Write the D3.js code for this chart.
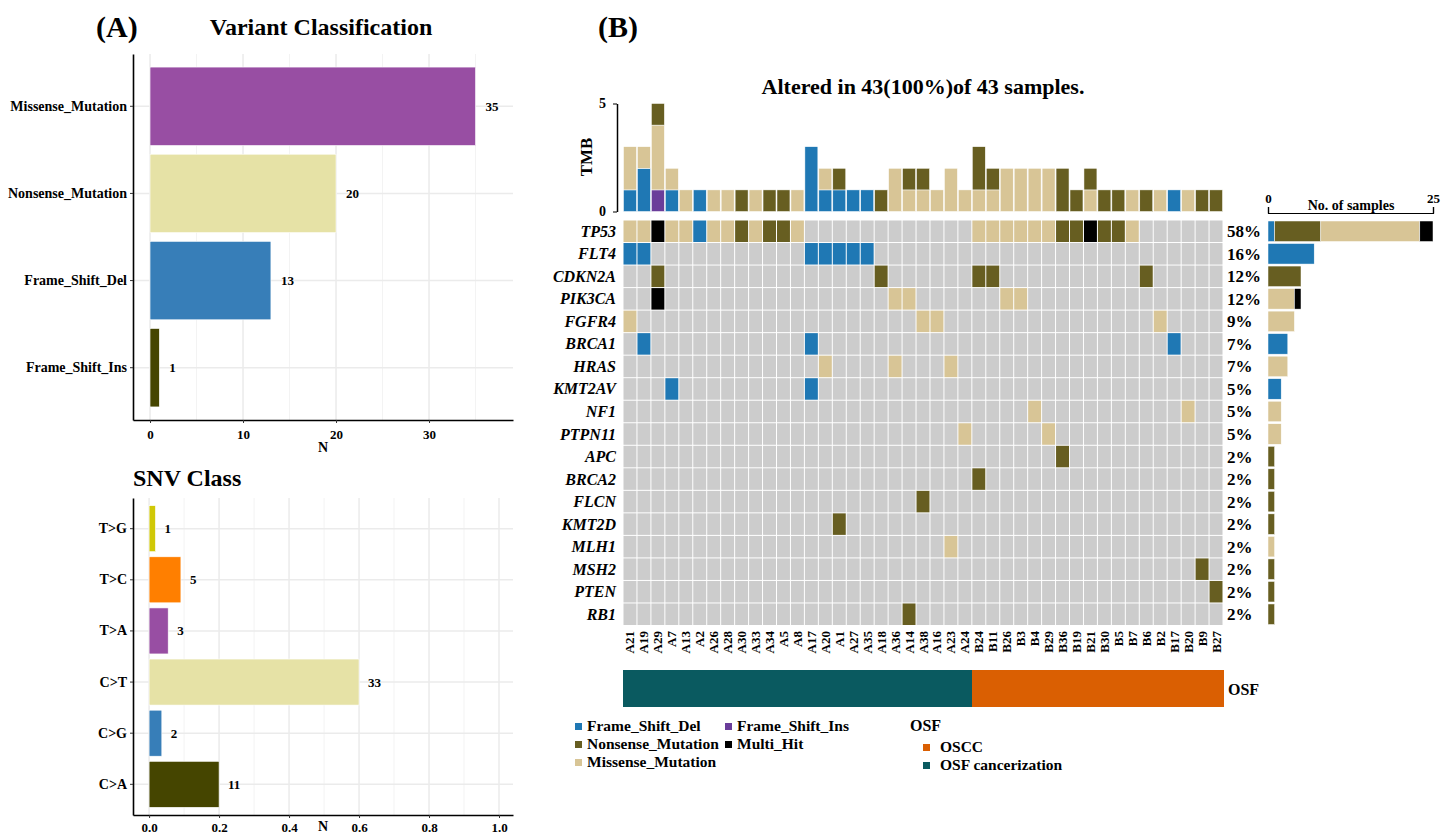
<!DOCTYPE html>
<html>
<head>
<meta charset="utf-8">
<script src="https://cdn.jsdelivr.net/npm/d3@7"></script>
<style>
  body { margin: 0; background: #fff; }
  text { font-family: "Liberation Serif", "Times New Roman", serif; font-weight: bold; fill: #000; }
</style>
</head>
<body>
<script>
// ---------- data: panel A ----------
const vcClasses = ["Missense_Mutation", "Nonsense_Mutation", "Frame_Shift_Del", "Frame_Shift_Ins"];
const vcCounts = [35, 20, 13, 1];
const vcColors = ["#984EA3", "#E6E2A6", "#377EB8", "#454500"];

const snvClasses = ["T>G", "T>C", "T>A", "C>T", "C>G", "C>A"];
const snvCounts = [1, 5, 3, 33, 2, 11];
const snvColors = ["#D0C806", "#FF7F00", "#984EA3", "#E6E2A6", "#377EB8", "#454500"];

// ---------- data: panel B (oncoplot) ----------
const samples = ["A21","A19","A29","A7","A13","A2","A26","A28","A30","A33","A34","A5","A8","A17","A20","A1","A27","A35","A18","A36","A14","A38","A16","A23","A24",
                 "B24","B11","B26","B3","B4","B29","B36","B19","B21","B30","B5","B7","B6","B2","B17","B20","B9","B27"];
const genes = ["TP53","FLT4","CDKN2A","PIK3CA","FGFR4","BRCA1","HRAS","KMT2AV","NF1","PTPN11","APC","BRCA2","FLCN","KMT2D","MLH1","MSH2","PTEN","RB1"];
// D = Frame_Shift_Del, I = Frame_Shift_Ins, N = Nonsense, M = Missense, X = Multi_Hit
const geneHits = [
  "A21:M A19:M A29:X A7:M A13:M A2:D A26:M A28:M A30:N A33:M A34:N A5:N A8:M B24:M B11:M B26:M B3:M B4:M B29:M B36:N B19:N B21:X B30:N B5:N B7:M",
  "A21:D A19:D A17:D A20:D A1:D A27:D A35:D",
  "A29:N A18:N B24:N B11:N B6:N",
  "A29:X A36:M A14:M B26:M B3:M",
  "A21:M A38:M A16:M B2:M",
  "A19:D A17:D B17:D",
  "A20:M A36:M A23:M",
  "A7:D A17:D",
  "B4:M B20:M",
  "A24:M B29:M",
  "B36:N",
  "B24:N",
  "A38:N",
  "A1:N",
  "A23:M",
  "B9:N",
  "B27:N",
  "A14:N"
];
// TMB per sample (variant counts)
const tmbDel = [1,2,0,1,0,1,0,0,0,0,0,0,0,3,1,1,1,1,0,0,0,0,0,0,0, 0,0,0,0,0,0,0,0,0,0,0,0,0,0,1,0,0,0];
const tmbIns = [0,0,1,0,0,0,0,0,0,0,0,0,0,0,0,0,0,0,0,0,0,0,0,0,0, 0,0,0,0,0,0,0,0,0,0,0,0,0,0,0,0,0,0];
const tmbMis = [2,1,3,1,1,0,1,1,0,1,0,0,1,0,1,0,0,0,0,2,1,1,1,2,1, 1,1,2,2,2,2,0,0,1,0,0,1,0,1,0,1,0,0];
const tmbNon = [0,0,1,0,0,0,0,0,1,0,1,1,0,0,0,1,0,0,1,0,1,1,0,0,0, 2,1,0,0,0,0,2,1,1,1,1,0,1,0,0,0,1,1];

const classNames = { D: "Frame_Shift_Del", I: "Frame_Shift_Ins", N: "Nonsense_Mutation", M: "Missense_Mutation", X: "Multi_Hit" };
const oncoColors = { Frame_Shift_Del: "#1F78B4", Frame_Shift_Ins: "#6A3D9A", Nonsense_Mutation: "#675E21", Missense_Mutation: "#D8C596", Multi_Hit: "#000000" };
const osfColors = { "OSCC": "#DA5F02", "OSF cancerization": "#0A5A60" };

const svg = d3.select("body").append("svg")
  .attr("width", 1444)
  .attr("height", 835);

// ---------- panel A ----------
svg.append("text").attr("x", 96).attr("y", 37).style("font-size", "30px").text("(A)");
svg.append("text").attr("x", 321).attr("y", 35).attr("text-anchor", "middle").style("font-size", "24px").text("Variant Classification");
svg.append("text").attr("x", 133).attr("y", 486).style("font-size", "24px").text("SNV Class");

function barPanel(cfg) {
  const g = svg.append("g");
  const x = d3.scaleLinear().domain(cfg.xDomain).range([133, 513]);
  const y = d3.scaleBand().domain(cfg.cats).range([cfg.top, cfg.bottom]).paddingInner(0.1).paddingOuter(0.15);

  g.selectAll(".minor").data(cfg.minor).enter().append("line")
    .attr("x1", d => x(d)).attr("x2", d => x(d))
    .attr("y1", cfg.top).attr("y2", cfg.bottom)
    .attr("stroke", "#F3F3F3").attr("stroke-width", 1);
  g.selectAll(".major").data(cfg.ticks).enter().append("line")
    .attr("x1", d => x(d)).attr("x2", d => x(d))
    .attr("y1", cfg.top).attr("y2", cfg.bottom)
    .attr("stroke", "#EBEBEB").attr("stroke-width", 1.5);
  g.selectAll(".hgrid").data(cfg.cats).enter().append("line")
    .attr("x1", 133).attr("x2", 513)
    .attr("y1", d => y(d) + y.bandwidth() / 2).attr("y2", d => y(d) + y.bandwidth() / 2)
    .attr("stroke", "#EBEBEB").attr("stroke-width", 1.5);

  g.selectAll(".bar").data(cfg.cats).enter().append("rect")
    .attr("x", x(0))
    .attr("y", d => y(d))
    .attr("width", (d, i) => x(cfg.values[i]) - x(0))
    .attr("height", y.bandwidth())
    .attr("fill", (d, i) => cfg.colors[i])
    .attr("stroke", "#fff").attr("stroke-width", 0.6);

  g.selectAll(".lab").data(cfg.cats).enter().append("text")
    .attr("x", (d, i) => x(cfg.values[i]) + cfg.labOffset)
    .attr("y", d => y(d) + y.bandwidth() / 2 + 4.5)
    .style("font-size", "13px")
    .text((d, i) => cfg.labels[i]);

  const ax = g.append("g").attr("transform", `translate(0,${cfg.bottom})`)
    .call(d3.axisBottom(x).tickValues(cfg.ticks).tickSize(3).tickSizeOuter(0).tickPadding(cfg.tickPad).tickFormat(cfg.fmt));
  const ay = g.append("g").attr("transform", "translate(133,0)")
    .call(d3.axisLeft(y).tickSize(3).tickSizeOuter(0).tickPadding(3));
  [ax, ay].forEach(a => {
    a.select(".domain").attr("stroke", "#000").attr("stroke-width", 1.6);
    a.selectAll(".tick line").attr("stroke", "#333");
    a.selectAll("text").style("font-size", "13px").style("font-family", "Liberation Serif").style("font-weight", "bold").attr("fill", "#000");
  });
  ay.selectAll("text").style("font-size", "14px");
  g.append("text").attr("x", 323).attr("y", cfg.bottom + cfg.nOffset)
    .attr("text-anchor", "middle").style("font-size", "14px").text("N");
}

barPanel({
  cats: vcClasses, values: vcCounts, labels: vcCounts, colors: vcColors,
  xDomain: [-1.83, 39.03], ticks: [0, 10, 20, 30], minor: [5, 15, 25, 35],
  fmt: d3.format("d"), top: 54, bottom: 420, labOffset: 10, tickPad: 7, nOffset: 32
});

const snvTotal = d3.sum(snvCounts);
barPanel({
  cats: snvClasses, values: snvCounts.map(c => c / snvTotal), labels: snvCounts, colors: snvColors,
  xDomain: [-0.046, 1.04], ticks: [0, 0.2, 0.4, 0.6, 0.8, 1.0], minor: [0.1, 0.3, 0.5, 0.7, 0.9],
  fmt: d3.format(".1f"), top: 498, bottom: 815, labOffset: 9, tickPad: 5, nOffset: 16
});

// ---------- panel B ----------
svg.append("text").attr("x", 598).attr("y", 37).style("font-size", "30px").text("(B)");
svg.append("text").attr("x", 923).attr("y", 94).attr("text-anchor", "middle").style("font-size", "22px")
  .text("Altered in 43(100%)of 43 samples.");

const x = d3.scaleBand().domain(samples).range([623, 1223]);
const y = d3.scaleBand().domain(genes).range([220, 625.5]);
const bw = x.bandwidth(), bh = y.bandwidth();

// mutation lookup
const hitMap = new Map();
genes.forEach((gname, i) => {
  geneHits[i].split(" ").forEach(h => {
    const [s, c] = h.split(":");
    hitMap.set(gname + "|" + s, classNames[c]);
  });
});

// grid cells
const cells = [];
genes.forEach(gname => samples.forEach(s => cells.push({ gene: gname, sample: s, cls: hitMap.get(gname + "|" + s) })));
svg.append("g").selectAll("rect").data(cells).enter().append("rect")
  .attr("x", d => x(d.sample) + 0.5)
  .attr("y", d => y(d.gene) + 0.5)
  .attr("width", bw - 1)
  .attr("height", bh - 1)
  .attr("fill", d => d.cls ? oncoColors[d.cls] : "#CCCCCC");

// gene labels
svg.append("g").selectAll("text").data(genes).enter().append("text")
  .attr("x", 616).attr("y", d => y(d) + bh / 2 + 5.5)
  .attr("text-anchor", "end").style("font-size", "16px").style("font-style", "italic")
  .text(d => d);

// percentage labels + right bars
const order = ["Frame_Shift_Del", "Frame_Shift_Ins", "Nonsense_Mutation", "Missense_Mutation", "Multi_Hit"];
const geneCounts = genes.map(gname => {
  const row = { gene: gname };
  order.forEach(c => row[c] = 0);
  samples.forEach(s => { const c = hitMap.get(gname + "|" + s); if (c) row[c] += 1; });
  row.total = d3.sum(order, c => row[c]);
  return row;
});
svg.append("g").selectAll("text").data(geneCounts).enter().append("text")
  .attr("x", 1227).attr("y", d => y(d.gene) + bh / 2 + 6)
  .style("font-size", "17px")
  .text(d => Math.round(d.total / samples.length * 100) + "%");

const xs = d3.scaleLinear().domain([0, 25]).range([1268, 1433]);
const gStack = d3.stack().keys(order)(geneCounts);
svg.append("g").selectAll("g").data(gStack).enter().append("g")
  .attr("fill", d => oncoColors[d.key])
  .selectAll("rect").data(d => d).enter().append("rect")
  .attr("x", d => xs(d[0]))
  .attr("y", d => y(d.data.gene) + 1)
  .attr("width", d => xs(d[1]) - xs(d[0]))
  .attr("height", bh - 2)
  .attr("stroke", "#fff").attr("stroke-width", 0.5);

const topAx = svg.append("g").attr("transform", "translate(0,213)")
  .call(d3.axisTop(xs).tickValues([0, 25]).tickSize(6).tickPadding(4));
topAx.select(".domain").attr("stroke", "#000").attr("stroke-width", 1.2);
topAx.selectAll(".tick line").attr("stroke", "#000").attr("stroke-width", 1.2);
topAx.selectAll("text").style("font-size", "13px").style("font-family", "Liberation Serif").style("font-weight", "bold").attr("fill", "#000");
svg.append("text").attr("x", 1351).attr("y", 210).attr("text-anchor", "middle").style("font-size", "14px").text("No. of samples");

// TMB bars
const yT = d3.scaleLinear().domain([0, 5]).range([211.5, 103.5]);
const tmbRows = samples.map((s, i) => ({
  sample: s,
  Frame_Shift_Del: tmbDel[i], Frame_Shift_Ins: tmbIns[i],
  Missense_Mutation: tmbMis[i], Nonsense_Mutation: tmbNon[i]
}));
const tStack = d3.stack().keys(["Frame_Shift_Del", "Frame_Shift_Ins", "Missense_Mutation", "Nonsense_Mutation"])(tmbRows);
svg.append("g").selectAll("g").data(tStack).enter().append("g")
  .attr("fill", d => oncoColors[d.key])
  .selectAll("rect").data(d => d.filter(v => v[1] > v[0])).enter().append("rect")
  .attr("x", d => x(d.data.sample) + 0.5)
  .attr("y", d => yT(d[1]))
  .attr("width", bw - 1)
  .attr("height", d => yT(d[0]) - yT(d[1]))
  .attr("stroke", "#fff").attr("stroke-width", 0.5);

const tAx = svg.append("g").attr("transform", "translate(617,0)")
  .call(d3.axisLeft(yT).tickValues([0, 5]).tickSize(4).tickSizeOuter(0).tickPadding(7).tickFormat(d3.format("d")));
tAx.select(".domain").attr("stroke", "#000").attr("stroke-width", 1.5);
tAx.selectAll("text").style("font-size", "14px").style("font-family", "Liberation Serif").style("font-weight", "bold").attr("fill", "#000");
svg.append("text").attr("transform", "translate(592,157) rotate(-90)")
  .attr("text-anchor", "middle").style("font-size", "17px").text("TMB");

// sample labels
svg.append("g").selectAll("text").data(samples).enter().append("text")
  .attr("transform", d => `translate(${x(d) + bw / 2 + 4.5},631) rotate(-90)`)
  .attr("text-anchor", "end").style("font-size", "13px")
  .text(d => d);

// OSF annotation
const osfGroup = samples.map(s => s[0] === "A" ? "OSF cancerization" : "OSCC");
svg.append("g").attr("shape-rendering", "crispEdges").selectAll("rect").data(samples).enter().append("rect")
  .attr("x", d => x(d))
  .attr("y", 670)
  .attr("width", bw + 1)
  .attr("height", 37)
  .attr("fill", (d, i) => osfColors[osfGroup[i]]);
svg.append("text").attr("x", 1228).attr("y", 695).style("font-size", "16px").text("OSF");

// legends
const legendItems = [
  { name: "Frame_Shift_Del", col: 0, row: 0 },
  { name: "Nonsense_Mutation", col: 0, row: 1 },
  { name: "Missense_Mutation", col: 0, row: 2 },
  { name: "Frame_Shift_Ins", col: 1, row: 0 },
  { name: "Multi_Hit", col: 1, row: 1 }
];
const leg = svg.append("g");
legendItems.forEach(d => {
  const lx = d.col === 0 ? 575 : 725;
  const ly = 731 + d.row * 18;
  leg.append("rect").attr("x", lx).attr("y", ly - 8).attr("width", 7).attr("height", 7).attr("fill", oncoColors[d.name]);
  leg.append("text").attr("x", lx + 12).attr("y", ly).style("font-size", "15.5px").text(d.name);
});
leg.append("text").attr("x", 910).attr("y", 731).style("font-size", "16px").text("OSF");
["OSCC", "OSF cancerization"].forEach((k, i) => {
  const ly = 752 + i * 18;
  leg.append("rect").attr("x", 923).attr("y", ly - 8).attr("width", 7).attr("height", 7).attr("fill", osfColors[k]);
  leg.append("text").attr("x", 940).attr("y", ly).style("font-size", "15.5px").text(k);
});
</script>
</body>
</html>
